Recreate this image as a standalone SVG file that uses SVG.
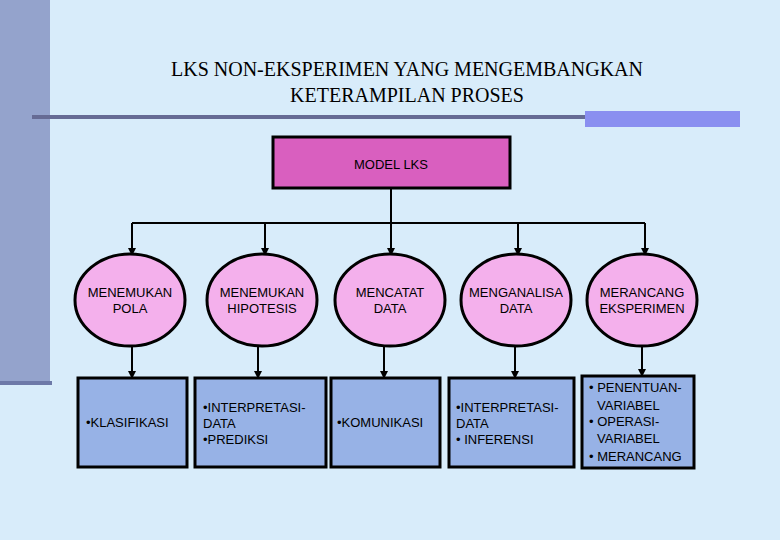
<svg xmlns="http://www.w3.org/2000/svg" width="780" height="540" viewBox="0 0 780 540">
<defs>
<marker id="ah" markerWidth="8" markerHeight="8" refX="7" refY="4" orient="auto" markerUnits="userSpaceOnUse"><path d="M0,0 L8,4 L0,8 z" fill="#000"/></marker>
<style>
.t{font-family:"Liberation Sans",Arial,sans-serif;font-size:13px;fill:#000}
.c{text-anchor:middle}
.el{fill:#f4b0ec;stroke:#000;stroke-width:3}
.bx{fill:#97b2e6;stroke:#000;stroke-width:3}
.ln{stroke:#000;stroke-width:2;fill:none}
</style>
</defs>
<rect width="780" height="540" fill="#d8ecfa"/>
<rect x="0" y="0" width="50" height="383" fill="#94a3cc"/>
<rect x="0" y="381" width="52" height="4" fill="#6d79a8"/>
<rect x="32" y="115" width="708" height="4" fill="#666b94"/>
<rect x="585" y="111" width="155" height="16" fill="#8a8ff0"/>
<g id="title" font-family="'Liberation Serif',serif" font-size="20" text-anchor="middle">
<text x="407" y="76">LKS NON-EKSPERIMEN YANG MENGEMBANGKAN</text>
<text x="407" y="102">KETERAMPILAN PROSES</text>
</g>
<g id="connectors" class="ln">
<path d="M391,188 V223 M132,223 H645"/>
<path d="M132,223 V255" marker-end="url(#ah)"/>
<path d="M265,223 V255" marker-end="url(#ah)"/>
<path d="M391,223 V255" marker-end="url(#ah)"/>
<path d="M518,223 V255" marker-end="url(#ah)"/>
<path d="M645,223 V255" marker-end="url(#ah)"/>
<path d="M132,346 V378" marker-end="url(#ah)"/>
<path d="M258,346 V378" marker-end="url(#ah)"/>
<path d="M384,346 V378" marker-end="url(#ah)"/>
<path d="M515,346 V378" marker-end="url(#ah)"/>
<path d="M642,346 V376" marker-end="url(#ah)"/>
</g>
<g id="model"><rect x="273" y="137" width="237" height="51" fill="#d95fbf" stroke="#000" stroke-width="3"/><text class="t c" x="391" y="169" font-size="17">MODEL LKS</text></g>
<g id="c1"><ellipse class="el" cx="130" cy="300" rx="55" ry="46"/><text class="t c" x="130" y="297">MENEMUKAN</text><text class="t c" x="130" y="313">POLA</text></g>
<g id="c2"><ellipse class="el" cx="262" cy="300" rx="55" ry="46"/><text class="t c" x="262" y="297">MENEMUKAN</text><text class="t c" x="262" y="313">HIPOTESIS</text></g>
<g id="c3"><ellipse class="el" cx="390" cy="300" rx="55" ry="46"/><text class="t c" x="390" y="297">MENCATAT</text><text class="t c" x="390" y="313">DATA</text></g>
<g id="c4"><ellipse class="el" cx="516" cy="300" rx="55" ry="46"/><text class="t c" x="516" y="297">MENGANALISA</text><text class="t c" x="516" y="313">DATA</text></g>
<g id="c5"><ellipse class="el" cx="642" cy="300" rx="55" ry="46"/><text class="t c" x="642" y="297">MERANCANG</text><text class="t c" x="642" y="313">EKSPERIMEN</text></g>
<g id="b1"><rect class="bx" x="78" y="378" width="109" height="89"/><text class="t" x="86" y="427">•KLASIFIKASI</text></g>
<g id="b2"><rect class="bx" x="195" y="378" width="131" height="89"/><text class="t" x="203" y="412">•INTERPRETASI-</text><text class="t" x="203" y="428"> DATA</text><text class="t" x="203" y="444">•PREDIKSI</text></g>
<g id="b3"><rect class="bx" x="331" y="378" width="109" height="89"/><text class="t" x="337" y="427">•KOMUNIKASI</text></g>
<g id="b4"><rect class="bx" x="449" y="378" width="125" height="89"/><text class="t" x="456" y="412">•INTERPRETASI-</text><text class="t" x="456" y="428">  DATA</text><text class="t" x="456" y="444">• INFERENSI</text></g>
<g id="b5"><rect class="bx" x="582" y="376" width="112" height="92"/><text class="t" x="589" y="392">• PENENTUAN-</text><text class="t" x="597" y="410">VARIABEL</text><text class="t" x="589" y="426">• OPERASI-</text><text class="t" x="597" y="443">VARIABEL</text><text class="t" x="589" y="461">• MERANCANG</text></g>
</svg>
